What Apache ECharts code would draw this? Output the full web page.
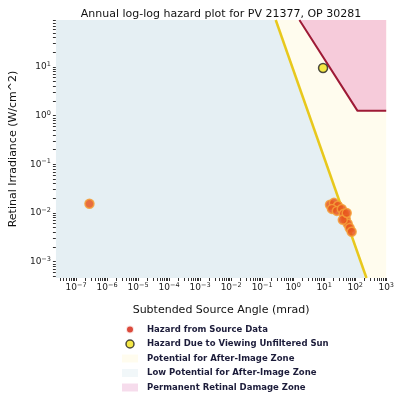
<!DOCTYPE html>
<html>
<head>
<meta charset="utf-8">
<script src="https://cdn.jsdelivr.net/npm/echarts@6/dist/echarts.min.js"></script>
<style>
html, body { margin: 0; padding: 0; background: #fff; }
#chart { width: 397px; height: 400px; }
</style>
</head>
<body>
<div id="chart"></div>
<script>
const chart = echarts.init(document.getElementById("chart"));

// axis ranges (mrad, W/cm^2)
const angleRange = [2.24e-8, 1000];
const irrRange = [4.6e-4, 92];
const xTickExps = [-7, -6, -5, -4, -3, -2, -1, 0, 1, 2, 3];
const yTickExps = [-3, -2, -1, 0, 1];

// measured hazard points
const sourceAngle = [2.7e-7, 15.4, 20.6, 27.6, 17.8, 25.6, 37, 42.8, 49.5, 57.4, 66.4, 76.9, 39.8, 53.3];
const sourceIrr = [0.0154, 0.0147, 0.0161, 0.014, 0.0121, 0.011, 0.0121, 0.0096, 0.0076, 0.006, 0.0049, 0.0041, 0.0072, 0.01];
const sunAngle = [9.2];
const sunIrr = [9.5];

// zone boundaries
const afterImageAngle = [2.24e-8, 0.274, 231];
const afterImageIrr = [92, 92, 4.6e-4];
const damageAngle = [1.59, 119, 1000];
const damageIrr = [92, 1.25, 1.25];

const zip = (a, b) => a.map((v, i) => [v, b[i]]);

function powTicks(exps) {
	return exps.map(e => Math.pow(10, e));
}
function minorTicks(exps, range) {
	const out = [];
	for (let e = exps[0] - 1; e <= exps[exps.length - 1]; e++) {
		for (let k = 1; k <= 9; k++) {
			const v = k * Math.pow(10, e);
			if (v >= range[0] && v <= range[1]) out.push(v);
		}
	}
	return out;
}
function powLabel(v) {
	const e = Math.round(Math.log10(v));
	return "{b|10}{s|" + String(e).replace("-", "\u2212") + "}";
}

const font = "DejaVu Sans";
const labelRich = {
	b: { fontSize: 9, fontFamily: font, color: "#222", lineHeight: 12 },
	s: { fontSize: 6.5, fontFamily: font, color: "#222", verticalAlign: "top", lineHeight: 8 }
};

option = {
	animation: false,
	title: {
		text: "Annual log-log hazard plot for PV 21377, OP 30281",
		left: 216,
		top: 4,
		textAlign: "center",
		textStyle: { fontFamily: font, fontSize: 11, fontWeight: "normal", color: "#111" }
	},
	grid: { left: 53, right: 9, top: 20, bottom: 122 },
	legend: {
		orient: "vertical",
		left: 122,
		top: 324,
		padding: 0,
		itemWidth: 16,
		itemHeight: 8,
		itemGap: 3.5,
		textStyle: { fontFamily: font, fontSize: 8.5, fontWeight: "bold", color: "#1c1c3a", lineHeight: 11, padding: [0, 0, 0, 4] },
		data: [
			{ name: "Hazard from Source Data", icon: "circle", itemStyle: { color: "#d62a1a", borderColor: "#fff", borderWidth: 2 } },
			{ name: "Hazard Due to Viewing Unfiltered Sun", icon: "circle", itemStyle: { color: "#f2e21a", borderColor: "#222", borderWidth: 1.5 } },
			{ name: "Potential for After-Image Zone", icon: "rect", itemStyle: { color: "#fffcee" } },
			{ name: "Low Potential for After-Image Zone", icon: "rect", itemStyle: { color: "#f1f7f9" } },
			{ name: "Permanent Retinal Damage Zone", icon: "rect", itemStyle: { color: "#f6dcec" } }
		]
	},
	xAxis: {
		type: "log",
		min: angleRange[0],
		max: angleRange[1],
		name: "Subtended Source Angle (mrad)",
		nameLocation: "middle",
		nameGap: 27,
		nameTextStyle: { fontFamily: font, fontSize: 11, color: "#111" },
		axisLine: { show: false },
		axisTick: { show: true, length: 3, customValues: minorTicks(xTickExps, angleRange), lineStyle: { color: "#333", width: 1 } },
		axisLabel: { customValues: powTicks(xTickExps), formatter: powLabel, rich: labelRich, margin: 4 },
		splitLine: { show: false }
	},
	yAxis: {
		type: "log",
		min: irrRange[0],
		max: irrRange[1],
		name: "Retinal Irradiance (W/cm^2)",
		nameLocation: "middle",
		nameGap: 35,
		nameTextStyle: { fontFamily: font, fontSize: 11, color: "#111" },
		axisLine: { show: false },
		axisTick: { show: true, length: 3, customValues: minorTicks(yTickExps, irrRange), lineStyle: { color: "#333", width: 1 } },
		axisLabel: { customValues: powTicks(yTickExps), formatter: powLabel, rich: labelRich, margin: 5 },
		splitLine: { show: false }
	},
	series: [{
		name: "Potential for After-Image Zone",
		type: "line",
		z: 1,
		data: zip([angleRange[0], angleRange[1]], [irrRange[1], irrRange[1]]),
		showSymbol: false,
		lineStyle: { width: 0 },
		areaStyle: { color: "#fffcee", opacity: 1, origin: "start" }
	}, {
		name: "Low Potential for After-Image Zone",
		type: "line",
		z: 1,
		data: zip(afterImageAngle, afterImageIrr),
		showSymbol: false,
		lineStyle: { width: 0 },
		areaStyle: { color: "#e5eff3", opacity: 1, origin: "start" }
	}, {
		name: "afterImageEdge",
		type: "line",
		z: 2,
		data: zip(afterImageAngle.slice(1), afterImageIrr.slice(1)),
		showSymbol: false,
		lineStyle: { color: "#e8c81c", width: 2.5 }
	}, {
		name: "Permanent Retinal Damage Zone",
		type: "line",
		z: 1,
		data: zip(damageAngle, damageIrr),
		showSymbol: false,
		lineStyle: { color: "#9e1a36", width: 2 },
		areaStyle: { color: "#f6cbda", opacity: 1, origin: "end" }
	}, {
		name: "Hazard from Source Data",
		type: "scatter",
		z: 5,
		data: zip(sourceAngle, sourceIrr),
		symbolSize: 9,
		itemStyle: { color: "#e8561f", borderColor: "#f4a03a", borderWidth: 1.5, opacity: 0.85 }
	}, {
		name: "Hazard Due to Viewing Unfiltered Sun",
		type: "scatter",
		z: 5,
		data: zip(sunAngle, sunIrr),
		symbolSize: 9,
		itemStyle: { color: "#f2e21a", borderColor: "#222", borderWidth: 1.5 }
	}]
};

chart.setOption(option);
window.onresize = chart.resize;
</script>
</body>
</html>
